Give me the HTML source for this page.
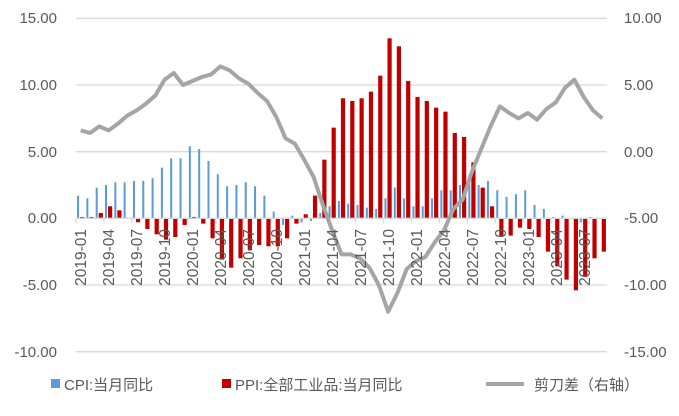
<!DOCTYPE html>
<html><head><meta charset="utf-8"><style>
body{margin:0;background:#fff;}
svg{display:block;font-family:"Liberation Sans","Noto Sans CJK SC",sans-serif;}
</style></head><body>
<svg id="s" width="679" height="416" viewBox="0 0 679 416">
<g stroke="#d9d9d9" stroke-width="1.3">
<line x1="76" x2="607" y1="18.3" y2="18.3"/>
<line x1="76" x2="607" y1="85" y2="85"/>
<line x1="76" x2="607" y1="151.7" y2="151.7"/>
<line x1="76" x2="607" y1="285" y2="285"/>
<line x1="76" x2="607" y1="351.7" y2="351.7"/>
</g>
<g id="bars"></g>
<line x1="76" x2="607" y1="218.3" y2="218.3" stroke="#d9d9d9" stroke-width="1.3"/>
<g id="ticks" stroke="#d9d9d9" stroke-width="1.3"></g>
<polyline id="ln" fill="none" stroke="#a5a5a5" stroke-width="4" stroke-linejoin="round"/>
<g font-size="15" fill="#595959" text-anchor="end">
<text x="57" y="23">15.00</text><text x="57" y="90">10.00</text><text x="57" y="157">5.00</text>
<text x="57" y="223">0.00</text><text x="57" y="290">-5.00</text><text x="57" y="357">-10.00</text>
</g>
<g font-size="15" fill="#595959" text-anchor="start">
<text x="624" y="23">10.00</text><text x="624" y="90">5.00</text><text x="624" y="157">0.00</text>
<text x="624" y="223">-5.00</text><text x="624" y="290">-10.00</text><text x="624" y="357">-15.00</text>
</g>
<g font-size="15.5" fill="#595959" text-anchor="end">
<text transform="translate(86,229) rotate(-90)">2019-01</text>
<text transform="translate(114,229) rotate(-90)">2019-04</text>
<text transform="translate(142,229) rotate(-90)">2019-07</text>
<text transform="translate(170,229) rotate(-90)">2019-10</text>
<text transform="translate(198,229) rotate(-90)">2020-01</text>
<text transform="translate(226,229) rotate(-90)">2020-04</text>
<text transform="translate(254,229) rotate(-90)">2020-07</text>
<text transform="translate(282,229) rotate(-90)">2020-10</text>
<text transform="translate(310,229) rotate(-90)">2021-01</text>
<text transform="translate(338,229) rotate(-90)">2021-04</text>
<text transform="translate(366,229) rotate(-90)">2021-07</text>
<text transform="translate(394,229) rotate(-90)">2021-10</text>
<text transform="translate(422,229) rotate(-90)">2022-01</text>
<text transform="translate(450,229) rotate(-90)">2022-04</text>
<text transform="translate(478,229) rotate(-90)">2022-07</text>
<text transform="translate(506,229) rotate(-90)">2022-10</text>
<text transform="translate(534,229) rotate(-90)">2023-01</text>
<text transform="translate(562,229) rotate(-90)">2023-04</text>
<text transform="translate(590,229) rotate(-90)">2023-07</text>
</g>
<g font-size="15" fill="#595959">
<rect x="51" y="379" width="9" height="9" fill="#5b9bd5"/><text x="64" y="390">CPI:当月同比</text>
<rect x="222" y="379" width="9" height="9" fill="#c00000"/><text x="235" y="390">PPI:全部工业品:当月同比</text>
<line x1="486" x2="524" y1="384" y2="384" stroke="#a5a5a5" stroke-width="4"/><text x="534" y="390">剪刀差（右轴）</text>
</g>
</svg>
<script>
var cpi=[1.7,1.5,2.3,2.5,2.7,2.7,2.8,2.8,3.0,3.8,4.5,4.5,5.4,5.2,4.3,3.3,2.4,2.5,2.7,2.4,1.7,0.5,-0.5,0.2,-0.3,-0.2,0.4,0.9,1.3,1.1,1.0,0.8,0.7,1.5,2.3,1.5,0.9,0.9,1.5,2.1,2.1,2.5,2.7,2.5,2.8,2.1,1.6,1.8,2.1,1.0,0.7,0.1,0.2,0.0,-0.3,0.1,0.0];
var ppi=[0.1,0.1,0.4,0.9,0.6,0.0,-0.3,-0.8,-1.2,-1.6,-1.4,-0.5,0.1,-0.4,-1.5,-3.1,-3.7,-3.0,-2.4,-2.0,-2.1,-2.1,-1.5,-0.4,0.3,1.7,4.4,6.8,9.0,8.8,9.0,9.5,10.7,13.5,12.9,10.3,9.1,8.8,8.3,8.0,6.4,6.1,4.2,2.3,0.9,-1.3,-1.3,-0.7,-0.8,-1.4,-2.5,-3.6,-4.6,-5.4,-4.4,-3.0,-2.5];
var ns="http://www.w3.org/2000/svg",b=document.getElementById('bars'),t=document.getElementById('ticks');
var x0=76,w=531/57,z=218.3,k=13.333,pts=[];
function r(x,v,wd,c){var e=document.createElementNS(ns,'rect');var h=Math.abs(v)*k;e.setAttribute('x',x);e.setAttribute('y',v>=0?z-h:z);e.setAttribute('width',wd);e.setAttribute('height',h);e.setAttribute('fill',c);b.appendChild(e);}
for(var i=0;i<57;i++){var c=x0+w*(i+0.5);r(c-3.6,cpi[i],2,'#5b9bd5');r(c-0.6,ppi[i],4.2,'#c00000');
pts.push(c.toFixed(1)+','+(151.7-(cpi[i]-ppi[i])*k).toFixed(1));
if(i%3==0){var l=document.createElementNS(ns,'line');var xx=x0+w*i;l.setAttribute('x1',xx);l.setAttribute('x2',xx);l.setAttribute('y1',z);l.setAttribute('y2',z+5);t.appendChild(l);}}
document.getElementById('ln').setAttribute('points',pts.join(' '));
</script>
</body></html>
